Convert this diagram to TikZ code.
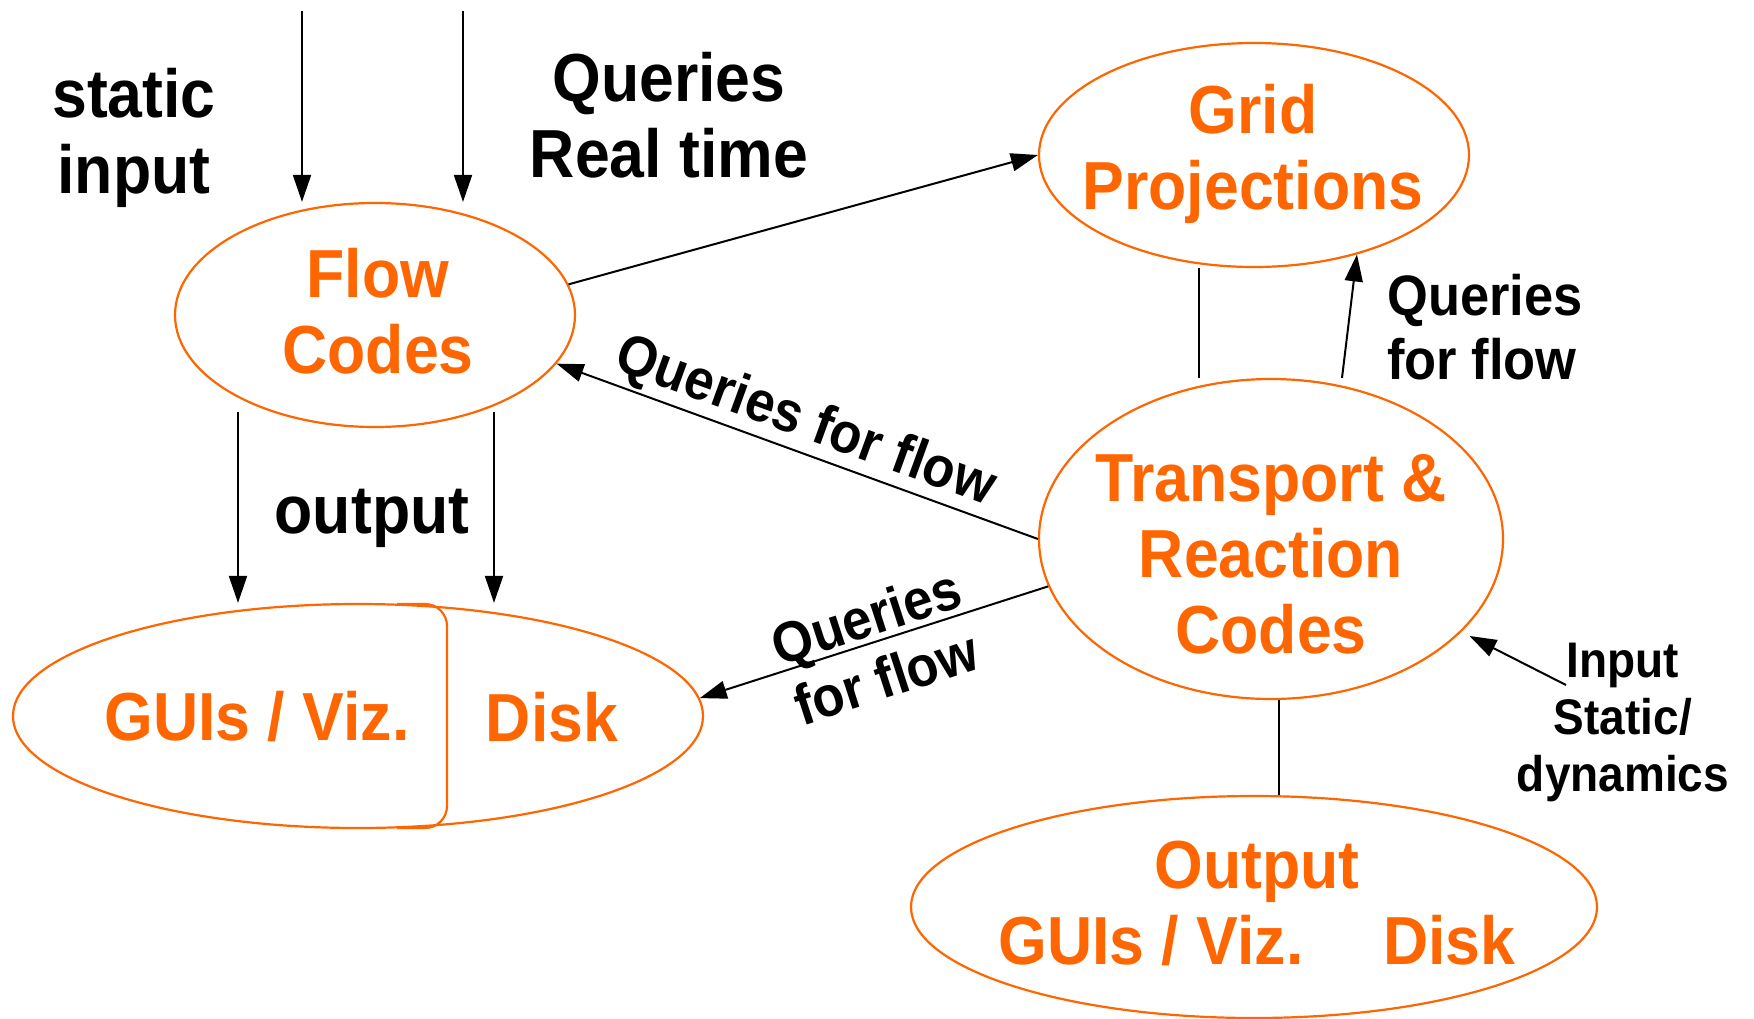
\documentclass[tikz,border=0pt]{standalone}
\usepackage{fontspec}
\setmainfont{Liberation Sans}[FakeStretch=0.92]
\usetikzlibrary{shapes.geometric,arrows.meta}
\definecolor{orng}{RGB}{255,102,0}
\begin{document}
\begin{tikzpicture}[x=1pt,y=-1pt,
  ell/.style={ellipse,draw=orng,line width=2.2pt,inner sep=0pt},
  otxt/.style={text=orng,align=center,inner sep=0pt,font=\fontsize{68}{76}\selectfont\bfseries},
  btxt/.style={text=black,align=center,inner sep=0pt,font=\fontsize{68}{76}\selectfont\bfseries},
  stxt/.style={text=black,align=center,inner sep=0pt,font=\fontsize{57}{64}\selectfont\bfseries},
  itxt/.style={text=black,align=center,inner sep=0pt,font=\fontsize{50}{57}\selectfont\bfseries},
  arr/.style={line width=2pt,-{Triangle[length=27pt,width=18pt]}},
  ln/.style={line width=2pt}]
\useasboundingbox (0,0) rectangle (1754,1018);
\fill[white] (0,0) rectangle (1754,1018);

% ellipses
\node[ell,minimum width=400pt,minimum height=224pt] (flow) at (375,315) {};
\node[ell,minimum width=430pt,minimum height=224pt] (grid) at (1254,155) {};
\node[ell,minimum width=464pt,minimum height=320pt] (transport) at (1271,539) {};
\node[ell,minimum width=686pt,minimum height=222pt] (output) at (1254,907) {};
\node[ell,minimum width=690pt,minimum height=224pt] (gui) at (358,716) {};
\draw[draw=orng,line width=2.2pt,rounded corners=22pt] (397,604) -- (447,604) -- (447,828) -- (397,828);

% orange texts
\node[otxt] (flowT) at (378,311) {Flow\\Codes};
\node[otxt] (gridT) at (1253,154) {Grid\\Projections};
\node[otxt] (transT) at (1271,554) {Transport \&\\Reaction\\Codes};
\node[otxt] (outT) at (1257,903) {Output\\GUIs / Viz.\hspace{80pt}Disk};
\node[otxt] (guiT) at (257,717) {GUIs / Viz.};
\node[otxt] (diskT) at (552,717) {Disk};

% black labels
\node[btxt] (staticT) at (134,138) {static\\input};
\node[btxt] (qrtT) at (669,115) {Queries\\Real time};
\node[btxt,anchor=base] (outputT) at (372,533) {output};
\node[stxt,align=left,anchor=west] (qffR) at (1387,327) {Queries\\for flow};
\node[itxt] (inT) at (1623,722) {Input\\Static/\\dynamics};
\node[stxt,rotate=-20] (qff1) at (805,423) {Queries for flow};
\node[stxt,rotate=18] (qff2) at (876,647) {Queries\\for flow};

% coordinates
\coordinate (in1) at (302,11);
\coordinate (in2) at (463,11);
\coordinate (o1) at (238,412);
\coordinate (o2) at (494,412);
\coordinate (gx) at (1199,0);
\coordinate (qx) at (1342,0);
\coordinate (ox) at (1279,0);
\coordinate (inS) at (1566,685);

% connectors
\draw[arr] (in1) -- (in1 |- flow.north);
\draw[arr] (in2) -- (in2 |- flow.north);
\draw[arr] (o1) -- (o1 |- gui.north);
\draw[arr] (o2) -- (o2 |- gui.north);
\draw[arr] (flow.9) -- (grid.west);
\draw[arr] (transport.west) -- (flow.-15);
\draw[arr] (transport.192) -- (gui.3);
\draw[ln] (gx |- grid.south) -- (gx |- transport.north);
\draw[arr] (qx |- transport.north) -- (grid.-44);
\draw[ln] (ox |- transport.south) -- (ox |- output.north);
\draw[arr,shorten >=9pt] (inS) -- (transport.-26);
\end{tikzpicture}
\end{document}
